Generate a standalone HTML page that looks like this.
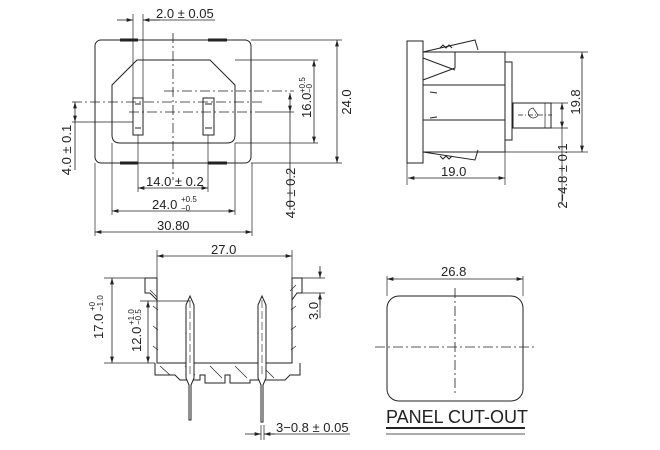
<!DOCTYPE html>
<html><head><meta charset="utf-8"><style>
html,body{margin:0;padding:0;background:#fff;}
svg{display:block;}
text{font-family:"Liberation Sans",sans-serif;fill:#222;}
</style></head><body>
<svg width="660" height="450" viewBox="0 0 660 450" xmlns="http://www.w3.org/2000/svg">
<defs>
<marker id="a" viewBox="0 0 10 6" refX="10" refY="3" markerWidth="8" markerHeight="5" orient="auto-start-reverse"><path d="M0,0L10,3L0,6z" fill="#222"/></marker>
</defs>
<g stroke="#222" stroke-width="1" fill="none">
<rect x="95" y="40" width="156" height="123" rx="6"/>
<path d="M112,85 L137,60 L210,60 L235,85 L235,135 Q235,143 227,143 L120,143 Q112,143 112,135 Z"/>
<rect x="133" y="98" width="10" height="37"/>
<rect x="203" y="98" width="11" height="37"/>
<path d="M135,104 h6 M135,128 h6 M205,104 h7 M205,128 h7"/>
<g stroke-width="3"><path d="M120,40h18M208,40h19M120,163h18M208,163h19"/></g>
<g stroke-dasharray="10,3,2,3" stroke-width="0.8">
<path d="M173,33V180M72,102H262M129,112H258M164,91H294"/>
</g>
<g stroke-width="0.7">
<path d="M133,98V14M143,98V14M143,20H215"/>
<path d="M251,40H342M251,163H342M235,60H318M235,143H318"/>
<path d="M72,122H133M112,143V215M235,143V215M138,135V192M208,135V192M95,163V236M252,163V236M258,112H294"/>
</g>
<g stroke-width="0.8">
<path d="M117,20H133" marker-end="url(#a)"/>
<path d="M160,20H143" marker-end="url(#a)"/>
<path d="M337,40V163" marker-start="url(#a)" marker-end="url(#a)"/>
<path d="M314,60V143" marker-start="url(#a)" marker-end="url(#a)"/>
<path d="M290,93V112" marker-start="url(#a)" marker-end="url(#a)"/>
<path d="M290,112V210"/>
<path d="M75,102V122" marker-start="url(#a)" marker-end="url(#a)"/>
<path d="M75,122V170"/>
<path d="M138,188H208" marker-start="url(#a)" marker-end="url(#a)"/>
<path d="M112,211H235" marker-start="url(#a)" marker-end="url(#a)"/>
<path d="M95,232H252" marker-start="url(#a)" marker-end="url(#a)"/>
</g>
<rect x="407" y="41" width="16" height="122"/>
<rect x="423" y="52" width="82" height="100"/>
<rect x="505" y="62" width="7" height="78"/>
<rect x="513" y="103" width="38" height="25"/>
<path d="M423,52L475,40L478,50M423,152L475,160L478,150M423,80L455,68L455,52M423,58L455,70M423,85H505M423,120H505M430,92L437,93M430,118L437,117"/>
<path d="M440,48l3,-3l3,3l3,-3l3,3M440,156l3,3l3,-3l3,3l3,-3"/>
<path d="M533,108 a5,5 0 1 0 5,7z" stroke-width="0.7"/>
<path d="M545,103V128" stroke-width="0.7"/>
<g stroke-width="0.7">
<path d="M505,52H588M505,152H588M513,103H568M513,128H568M407,163V185M505,152V185M562,128V205"/>
<path d="M518,115H552" stroke-dasharray="5,2,1,2"/>
</g>
<g stroke-width="0.8">
<path d="M582,52V152" marker-start="url(#a)" marker-end="url(#a)"/>
<path d="M562,103V128" marker-start="url(#a)" marker-end="url(#a)"/>
<path d="M408,178H505" marker-start="url(#a)" marker-end="url(#a)"/>
</g>
<path d="M145,278H157V363H292V278H302V293L297,293L292,300M145,278V293H150L157,300"/>
<path d="M155,363V375H175L180,380H200V375H205V383H225V375H230V383H250V380H285L290,375H300V363"/>
<g stroke-width="0.7">
<path d="M160,366l10,9M185,366l10,9M210,366l12,12M235,366l12,12M262,366l12,12M150,290l7,7M296,285l-6,6M158,310l-5,-4M158,330l-5,-4M158,350l-5,-4M291,310l5,-4M291,330l5,-4M291,350l5,-4"/>
</g>
<path d="M186,305L190,296L194,305V378L191,385V420L189,420V385L186,378Z" fill="#fff"/>
<path d="M258,305L262,296L266,305V378L263,385V422L261,422V385L258,378Z" fill="#fff"/>
<path d="M190,300V375M262,300V375" stroke-dasharray="8,3" stroke-width="0.6"/>
<g stroke-width="0.7">
<path d="M157,250V278M292,250V278M104,278H145M104,363H155M140,301H190M302,278H325M302,293H325M261,425V440M264,425V440"/>
</g>
<g stroke-width="0.8">
<path d="M157,256H292" marker-start="url(#a)" marker-end="url(#a)"/>
<path d="M112,278V363" marker-start="url(#a)" marker-end="url(#a)"/>
<path d="M148,301V363" marker-start="url(#a)" marker-end="url(#a)"/>
<path d="M320,266V278" marker-end="url(#a)"/>
<path d="M320,305V293" marker-end="url(#a)"/>
<path d="M320,293V318"/>
<path d="M245,434H261" marker-end="url(#a)"/>
<path d="M275,434H264" marker-end="url(#a)"/>
<path d="M264,434H350"/>
</g>
<rect x="387" y="296" width="136" height="105" rx="12"/>
<g stroke-dasharray="10,3,2,3" stroke-width="0.8"><path d="M455,288V395M375,347H535"/></g>
<path d="M387,276V296M523,276V296" stroke-width="0.7"/>
<path d="M387,279H523" stroke-width="0.8" marker-start="url(#a)" marker-end="url(#a)"/>
<path d="M386,428H525" stroke-width="2"/>
<path d="M386,434H525" stroke-width="0.8"/>
</g>
<g font-size="13">
<text x="156" y="18">2.0 ± 0.05</text>
<text x="146" y="186">14.0 ± 0.2</text>
<text x="152" y="209">24.0</text><text x="181" y="202" font-size="8">+0.5</text><text x="181" y="211" font-size="8">−0</text>
<text x="157" y="230">30.80</text>
<text transform="translate(351,102) rotate(-90)" text-anchor="middle">24.0</text>
<text transform="translate(311,118) rotate(-90)">16.0</text>
<text transform="translate(305,93) rotate(-90)" font-size="8">+0.5</text>
<text transform="translate(312,93) rotate(-90)" font-size="8">−0</text>
<text transform="translate(295,193) rotate(-90)" text-anchor="middle">4.0 ± 0.2</text>
<text transform="translate(71,150) rotate(-90)" text-anchor="middle">4.0 ± 0.1</text>
<text x="441" y="176">19.0</text>
<text transform="translate(580,102) rotate(-90)" text-anchor="middle">19.8</text>
<text transform="translate(567,176) rotate(-90)" text-anchor="middle">2−4.8 ± 0.1</text>
<text x="211" y="254">27.0</text>
<text transform="translate(103,339) rotate(-90)">17.0</text>
<text transform="translate(95,311) rotate(-90)" font-size="8">+0</text>
<text transform="translate(103,311) rotate(-90)" font-size="8">−1.0</text>
<text transform="translate(141,352) rotate(-90)">12.0</text>
<text transform="translate(134,325) rotate(-90)" font-size="8">+1.0</text>
<text transform="translate(141,325) rotate(-90)" font-size="8">−0.5</text>
<text transform="translate(318,320) rotate(-90)">3.0</text>
<text x="276" y="432">3−0.8 ± 0.05</text>
<text x="441" y="276">26.8</text>
</g>
<text x="386" y="423" font-size="18">PANEL CUT-OUT</text>
</svg>
</body></html>
